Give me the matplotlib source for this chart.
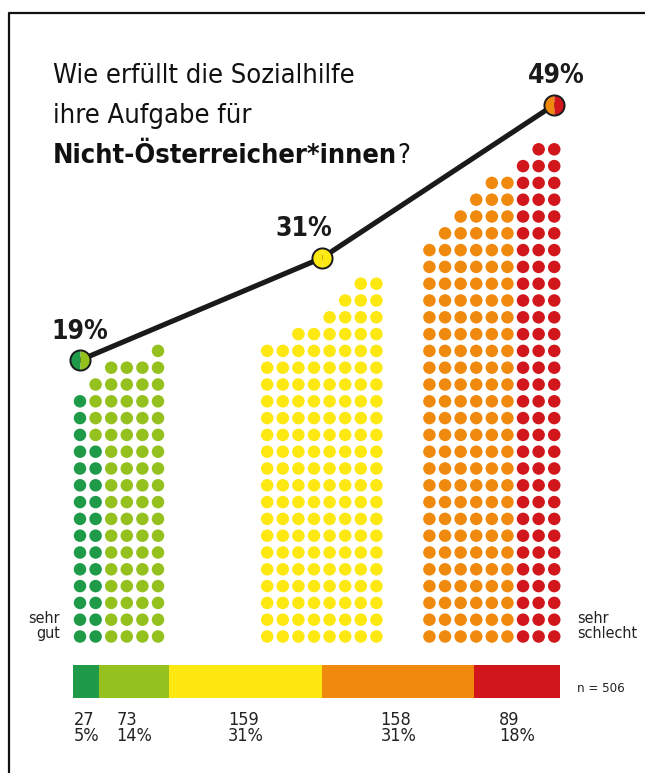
import matplotlib
matplotlib.use('Agg')
import matplotlib.pyplot as plt
from matplotlib import font_manager as fm
import numpy as np

# --- data ---
categories = ['sehr gut', 'eher gut', 'mittel', 'eher schlecht', 'sehr schlecht']
counts = [27, 73, 159, 158, 89]
count_pct = ['5%', '14%', '31%', '31%', '18%']
colors = ['#1f9a48', '#95c11f', '#fde812', '#f08a0e', '#d1161c']
n_total = 506

# dot columns of each group (dots per column, left to right)
green_cols = [15, 16, 17, 17, 17, 18]
yellow_cols = [18, 18, 19, 19, 20, 21, 22, 22]
orangered_cols = [24, 25, 26, 27, 28, 28, 29, 30, 30]
group_cols = [green_cols, yellow_cols, orangered_cols]
group_cats = [[0, 1], [2], [3, 4]]
group_pct = [19, 31, 49]
group_pct_txt = ['19%', '31%', '49%']

# --- layout (pixels of a 645x773 canvas) ---
W, H = 645, 773
col_px, row_px = 15.6, 16.8       # dot grid pitch
x0_px, y0_px = 80, 636.5          # first column, bottom row
group_start = [0, 12, 22.4]       # in column units
marker_anchor = [0.0, 0.5, 1.0]   # where the marker sits over its group
label_dx = [0, -18, 2]            # pixel shift of the percentage labels
pct_px, pct_zero = 8.513, 251.1   # percent scale of the line (px per %, px of 0%)

names = {f.name for f in fm.fontManager.ttflist}
if 'Liberation Sans Narrow' in names:
    FONT, STRETCH = 'Liberation Sans Narrow', 'normal'
else:
    FONT, STRETCH = 'DejaVu Sans', 'condensed'
plt.rcParams['font.family'] = [FONT, 'DejaVu Sans']
plt.rcParams['font.stretch'] = STRETCH

fig = plt.figure(figsize=(W / 100, H / 100), dpi=100)

# dots axes: x in columns, y in rows
ax = fig.add_axes([0, 0, 1, 1])
ax.set_xlim(-x0_px / col_px, (W - x0_px) / col_px)
ax.set_ylim(-(H - y0_px) / row_px, y0_px / row_px)
ax.axis('off')

for g, cols in enumerate(group_cols):
    # fill each group column by column, bottom up, in category order
    cats = np.repeat(group_cats[g], [counts[c] for c in group_cats[g]])
    xs, ys = [], []
    for i, h in enumerate(cols):
        for r in range(h):
            xs.append(group_start[g] + i)
            ys.append(r)
    cc = [colors[c] for c in cats]
    ax.scatter(xs, ys, s=(12.5 * 0.72) ** 2, c=cc, linewidths=0, zorder=2)

# line axes: same x, y in percent
lx = ax.twinx()
lx.set_ylim(-pct_zero / pct_px, (H - pct_zero) / pct_px)
lx.axis('off')
mx = [group_start[g] + marker_anchor[g] * (len(group_cols[g]) - 1) for g in range(3)]
lx.plot(mx, group_pct, color='#1a1a1a', lw=3.7, solid_capstyle='round', zorder=3)
for g in range(3):
    cs = group_cats[g]
    # two-coloured fill, then a plain ring on top (no divider line)
    lx.plot(mx[g], group_pct[g], marker='o', ms=14.5, fillstyle='left',
            markerfacecolor=colors[cs[0]], markerfacecoloralt=colors[cs[-1]],
            markeredgewidth=0, zorder=4)
    lx.plot(mx[g], group_pct[g], marker='o', ms=14.5, fillstyle='none',
            markeredgecolor='#1a1a1a', markeredgewidth=1.4, zorder=5)
    lx.annotate(group_pct_txt[g], (mx[g], group_pct[g]), xytext=(label_dx[g] * 0.72, 15.5),
                textcoords='offset points', ha='center', va='baseline',
                fontsize=19, fontweight='bold', color='#1a1a1a', zorder=6)

# stacked bar of all answers
bx = fig.add_axes([73.3 / W, 1 - 698 / H, (560 - 73.3) / W, 33 / H])
bx.set_xlim(0, n_total)
bx.set_ylim(0, 1)
bx.axis('off')
left = np.concatenate([[0], np.cumsum(counts)[:-1]])
bx.barh(0.5, counts, left=left, height=1, color=colors, linewidth=0)
for i in range(len(counts)):
    bx.text(left[i] + counts[i] / 2, -0.38, f'{counts[i]}\n{count_pct[i]}',
            ha='center', va='top', multialignment='left', linespacing=0.88,
            fontsize=13, color='#222222')
bx.text(1.035, 0.3, f'n = {n_total}', transform=bx.transAxes, ha='left',
        va='center', fontsize=9.5, color='#222222')

# end labels
fig.text(60 / W, 1 - 626 / H, 'sehr\ngut', ha='right', va='center',
         multialignment='right', linespacing=0.95, fontsize=11.5, color='#222222')
fig.text(577 / W, 1 - 626 / H, 'sehr\nschlecht', ha='left', va='center',
         linespacing=0.95, fontsize=11.5, color='#222222')

# title
tkw = dict(fontsize=19.5, color='#111111', va='baseline', ha='left')
fig.text(53 / W, 1 - 83 / H, 'Wie erfüllt die Sozialhilfe', **tkw)
fig.text(53 / W, 1 - 123 / H, 'ihre Aufgabe für', **tkw)
t3 = fig.text(53 / W, 1 - 163 / H, 'Nicht-Österreicher*innen', fontweight='bold', **tkw)
ax.annotate('?', xy=(1, 0), xycoords=t3, ha='left', va='bottom',
            fontsize=19.5, color='#111111')

# frame
fig.add_artist(plt.Line2D([9 / W, 9 / W, 1], [0, 1 - 13 / H, 1 - 13 / H],
                          transform=fig.transFigure, color='#111111', lw=1.6))

fig.savefig('out.png', dpi=100, facecolor='white')
